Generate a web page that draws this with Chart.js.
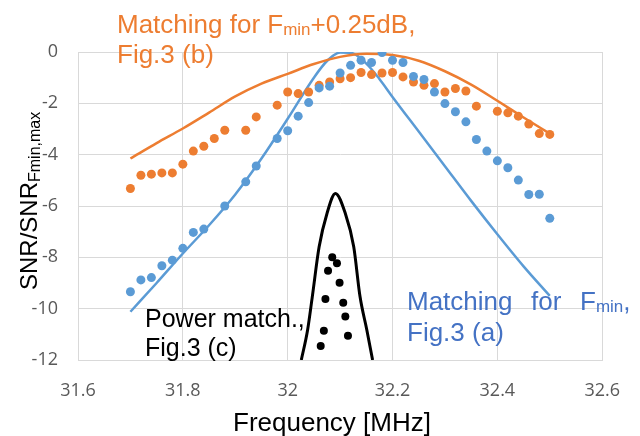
<!DOCTYPE html>
<html>
<head>
<meta charset="utf-8">
<script src="https://cdn.jsdelivr.net/npm/chart.js@4.4.1/dist/chart.umd.min.js"></script>
<style>
  body { margin: 0; background: #fff; }
</style>
</head>
<body>
<canvas id="snrChart" width="640" height="436"></canvas>
<script>
// tick labels
const xTicks = [31.6, 31.8, 32, 32.2, 32.4, 32.6];
const yTicks = [0, -2, -4, -6, -8, -10, -12];

// measured points (Fmin+0.25dB matching, orange)
const orangeMeasX = [31.70, 31.72, 31.74, 31.76, 31.78, 31.80, 31.82, 31.84, 31.86, 31.88, 31.92, 31.94, 31.98, 32.00, 32.02, 32.04, 32.06, 32.08, 32.10, 32.12, 32.14, 32.16, 32.18, 32.20, 32.22, 32.24, 32.26, 32.28, 32.30, 32.32, 32.34, 32.36, 32.40, 32.42, 32.44, 32.46, 32.48, 32.50];
const orangeMeasY = [-5.32, -4.80, -4.76, -4.71, -4.71, -4.37, -3.86, -3.67, -3.37, -3.05, -3.05, -2.53, -2.07, -1.56, -1.62, -1.56, -1.30, -1.17, -1.04, -1.00, -0.80, -0.88, -0.82, -0.80, -0.97, -1.17, -1.30, -1.23, -1.56, -1.42, -1.52, -2.11, -2.31, -2.37, -2.50, -2.81, -3.18, -3.21];

// measured points (Fmin matching, blue)
const blueMeasX = [31.70, 31.72, 31.74, 31.76, 31.78, 31.80, 31.82, 31.84, 31.88, 31.92, 31.94, 31.98, 32.00, 32.02, 32.04, 32.06, 32.08, 32.10, 32.12, 32.14, 32.16, 32.18, 32.20, 32.22, 32.24, 32.26, 32.28, 32.30, 32.32, 32.34, 32.36, 32.38, 32.40, 32.42, 32.44, 32.46, 32.48, 32.50];
const blueMeasY = [-9.34, -8.88, -8.79, -8.33, -8.11, -7.65, -7.03, -6.90, -6.00, -5.06, -4.44, -3.37, -3.07, -2.50, -1.97, -1.40, -1.33, -0.82, -0.52, -0.32, -0.41, -0.02, -0.32, -0.41, -0.95, -1.07, -1.56, -2.01, -2.33, -2.72, -3.41, -3.86, -4.24, -4.51, -4.99, -5.55, -5.54, -6.48];

// measured points (power match, black)
const blackMeasX = [32.085, 32.094, 32.077, 32.099, 32.072, 32.106, 32.110, 32.069, 32.115, 32.063];
const blackMeasY = [-8.00, -8.23, -8.52, -8.99, -9.62, -9.77, -10.31, -10.86, -11.06, -11.45];

// simulated curves
const orangeSimX = [31.70, 31.75, 31.80, 31.85, 31.90, 31.95, 32.00, 32.05, 32.10, 32.15, 32.20, 32.25, 32.30, 32.35, 32.40, 32.45, 32.50];
const orangeSimY = [-4.15, -3.55, -2.98, -2.36, -1.73, -1.23, -0.85, -0.47, -0.19, -0.07, -0.12, -0.34, -0.75, -1.27, -1.90, -2.55, -3.18];

const blueSimX = [31.70, 31.75, 31.80, 31.85, 31.90, 31.95, 32.00, 32.05, 32.075, 32.10, 32.12, 32.15, 32.175, 32.20, 32.25, 32.30, 32.35, 32.40, 32.45, 32.50];
const blueSimY = [-10.12, -9.00, -7.85, -6.75, -5.55, -4.15, -2.60, -1.00, -0.35, -0.02, -0.03, -0.45, -1.05, -1.75, -3.10, -4.45, -5.80, -7.10, -8.35, -9.50];

const blackSimX = [32.026, 32.038, 32.047, 32.060, 32.075, 32.091, 32.110, 32.126, 32.138, 32.151, 32.162];
const blackSimY = [-12.0, -10.83, -9.53, -7.59, -6.29, -5.51, -6.29, -7.59, -9.53, -10.83, -12.0];

const ORANGE = '#ED7D31';
const BLUE = '#5B9BD5';
const TXT_BLUE = '#4472C4';
const SANS = "'Liberation Sans', Arial, sans-serif";

const pts = (xs, ys) => xs.map((x, i) => ({ x: x, y: ys[i] }));

const dotSet = (xs, ys, color, r) => ({
    data: pts(xs, ys),
    showLine: false,
    pointRadius: r,
    pointBorderWidth: 0,
    pointBackgroundColor: color,
    pointBorderColor: color
});

const lineSet = (xs, ys, color, w) => ({
    data: pts(xs, ys),
    showLine: true,
    borderColor: color,
    borderWidth: w,
    pointRadius: 0,
    cubicInterpolationMode: 'monotone'
});

// text with subscript pieces
function richText(ctx, parts, x, y) {
    let cx = x;
    parts.forEach(p => {
        ctx.font = p.size + 'px ' + SANS;
        ctx.fillText(p.t, cx, y + (p.dy || 0));
        cx += ctx.measureText(p.t).width;
    });
}

const labelsPlugin = {
    id: 'labels',
    afterDraw(chart) {
        const ctx = chart.ctx;
        ctx.save();
        ctx.textBaseline = 'alphabetic';
        ctx.textAlign = 'left';

        // orange annotation
        ctx.fillStyle = ORANGE;
        richText(ctx, [
            { t: 'Matching for F', size: 26 },
            { t: 'min', size: 17, dy: 2 },
            { t: '+0.25dB,', size: 26 }
        ], 117, 33);
        richText(ctx, [{ t: 'Fig.3 (b)', size: 26 }], 117, 63);

        // blue annotation (justified line)
        ctx.fillStyle = TXT_BLUE;
        richText(ctx, [{ t: 'Matching', size: 26 }], 407, 310);
        richText(ctx, [{ t: 'for', size: 26 }], 531, 310);
        richText(ctx, [
            { t: 'F', size: 26 },
            { t: 'min', size: 17, dy: 2 },
            { t: ',', size: 26 }
        ], 580, 310);
        richText(ctx, [{ t: 'Fig.3 (a)', size: 26 }], 407, 341);

        // black annotation
        ctx.fillStyle = '#000';
        richText(ctx, [{ t: 'Power match.,', size: 25 }], 145, 327);
        richText(ctx, [{ t: 'Fig.3 (c)', size: 25 }], 145, 356);

        // x title
        ctx.font = '26px ' + SANS;
        ctx.textAlign = 'center';
        ctx.fillText('Frequency [MHz]', 332, 431);

        // y title, rotated
        ctx.translate(37, 290);
        ctx.rotate(-Math.PI / 2);
        ctx.textAlign = 'left';
        richText(ctx, [
            { t: 'SNR/SNR', size: 24 },
            { t: 'Fmin,max', size: 16, dy: 3 }
        ], 0, 0);
        ctx.restore();
    }
};

new Chart(document.getElementById('snrChart'), {
    type: 'scatter',
    data: {
        datasets: [
            dotSet(blackMeasX, blackMeasY, '#000', 4),
            dotSet(blueMeasX, blueMeasY, BLUE, 4.5),
            dotSet(orangeMeasX, orangeMeasY, ORANGE, 4.5),
            lineSet(blackSimX, blackSimY, '#000', 3),
            lineSet(orangeSimX, orangeSimY, ORANGE, 2.5),
            lineSet(blueSimX, blueSimY, BLUE, 2.5)
        ]
    },
    options: {
        responsive: false,
        animation: false,
        layout: { padding: { top: 52, right: 32, left: 0, bottom: 0 } },
        plugins: { legend: { display: false }, tooltip: { enabled: false } },
        scales: {
            x: {
                type: 'linear',
                min: 31.6,
                max: 32.6,
                afterBuildTicks: s => { s.ticks = xTicks.map(v => ({ value: v })); },
                afterFit: s => { s.height = 76; },
                grid: { color: '#d9d9d9', lineWidth: 1, drawTicks: false },
                border: { display: true, color: '#d9d9d9' },
                ticks: {
                    padding: 20,
                    maxRotation: 0,
                    color: '#595959',
                    font: { family: "'Open Sans'", size: 18 },
                    callback: v => String(+v.toFixed(1))
                }
            },
            y: {
                min: -12,
                max: 0,
                afterBuildTicks: s => { s.ticks = yTicks.map(v => ({ value: v })); },
                afterFit: s => { s.width = 78; },
                grid: { color: '#d9d9d9', lineWidth: 1, drawTicks: false },
                border: { display: true, color: '#d9d9d9' },
                ticks: {
                    padding: 20,
                    color: '#595959',
                    font: { family: "'Open Sans'", size: 18 },
                    callback: v => String(v)
                }
            }
        }
    },
    plugins: [labelsPlugin]
});
</script>
</body>
</html>
